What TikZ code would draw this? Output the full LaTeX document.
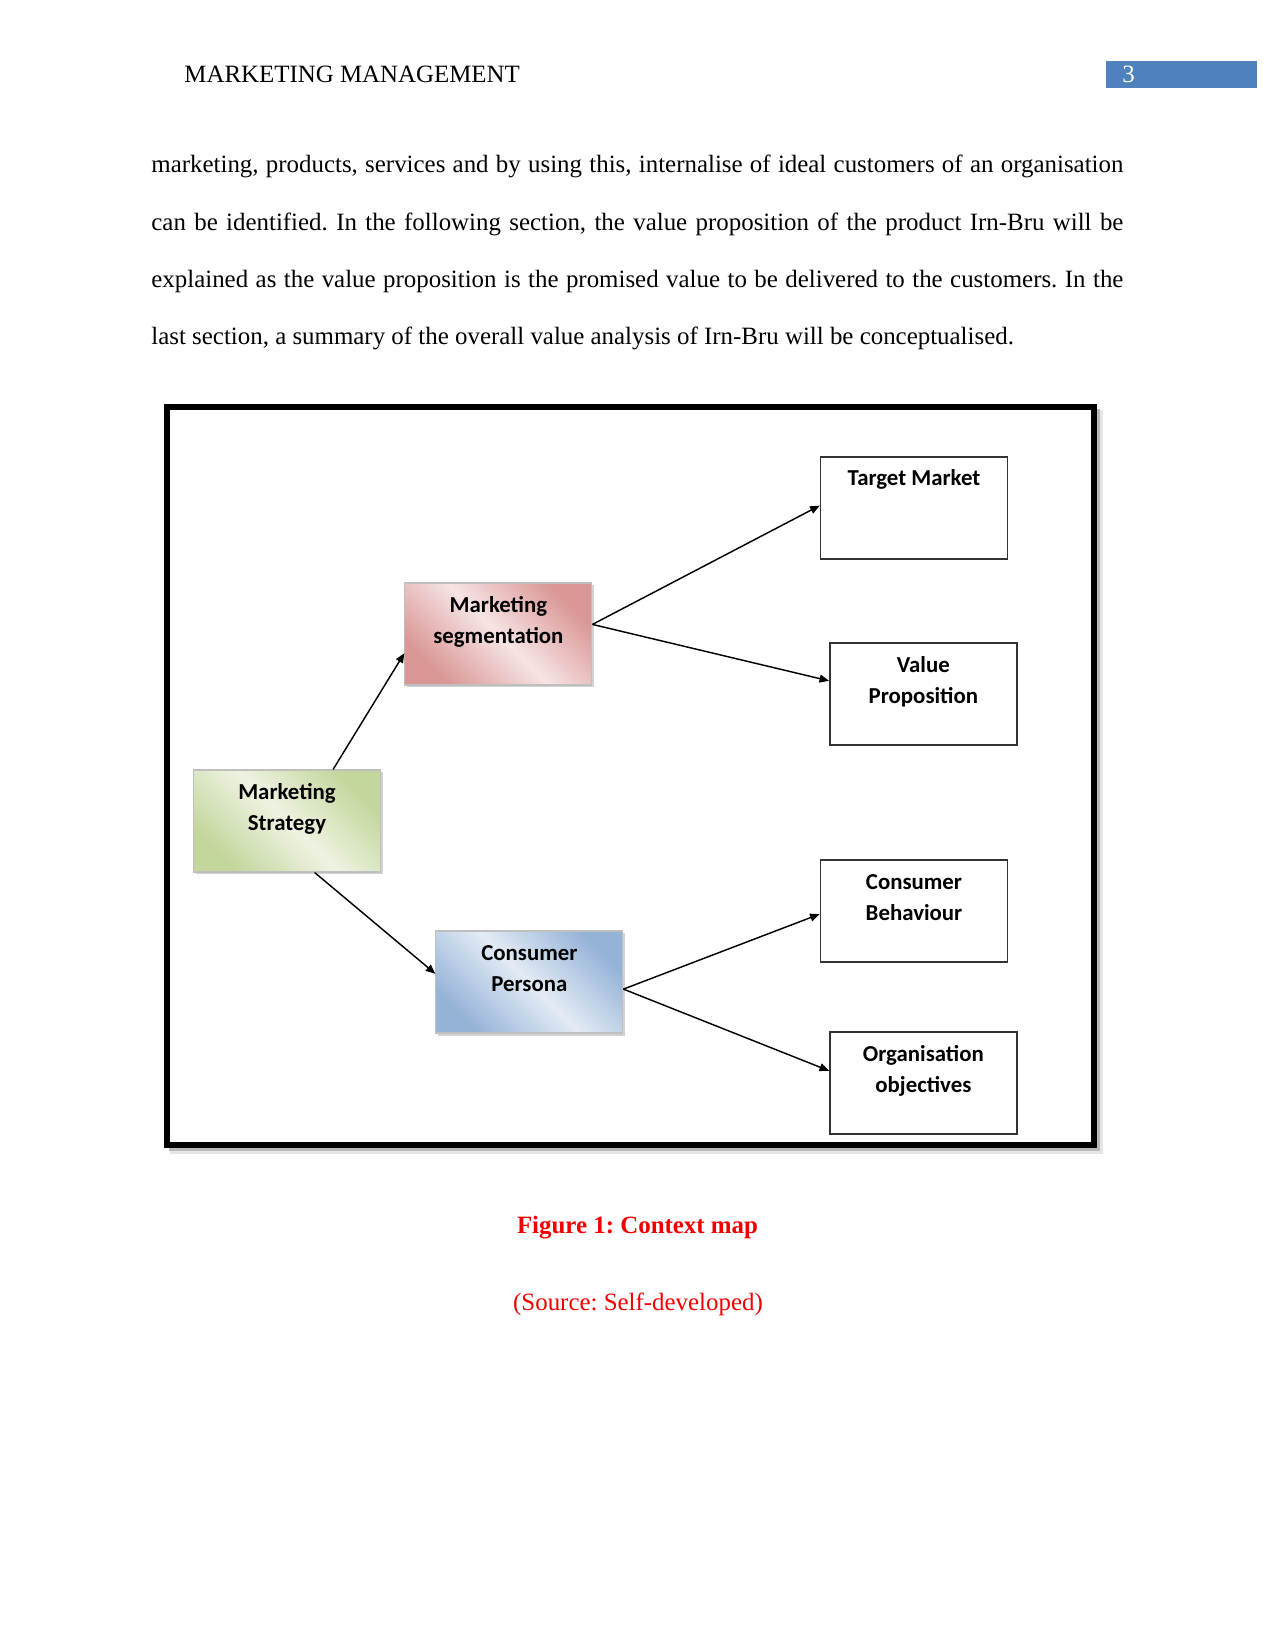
\documentclass[tikz,border=0pt]{standalone}
\usepackage{fontspec}
\setmainfont{Liberation Serif}
\newfontfamily\calibri{Carlito}
\usetikzlibrary{arrows.meta,calc,shadows}
\newlength\px \setlength\px{0.4818pt}
\frenchspacing
\definecolor{hdrblue}{HTML}{4F81BD}
\definecolor{segdark}{HTML}{D99694}
\definecolor{seglight}{HTML}{F6E4E4}
\definecolor{strdark}{HTML}{C3D69B}
\definecolor{strlight}{HTML}{EEF3E2}
\definecolor{perdark}{HTML}{95B3D7}
\definecolor{perlight}{HTML}{E3EBF5}
\definecolor{capred}{HTML}{F00000}
\newcommand\bodyfont{\fontsize{12pt}{14pt}\selectfont\frenchspacing}
\newcommand\boxlines[1]{\parbox[c][102\px][t]{187\px}{\centering\calibri\bfseries\fontsize{11pt}{15.4pt}\selectfont\rule{0pt}{29\px}#1}}
\begin{document}
\begin{tikzpicture}[x=0.4818pt,y=-0.4818pt,
  txt/.style={anchor=base west,inner sep=0pt,font=\bodyfont},
  plainbox/.style={draw=black!80,line width=0.8pt,fill=white,inner sep=0pt},
  shadebox/.style={draw=black!25,line width=0.5pt,inner sep=0pt,
    drop shadow={shadow xshift=1.2pt,shadow yshift=-1.2pt,opacity=0.35}},
  segbox/.style={shadebox,left color=segdark,right color=segdark,middle color=seglight,shading angle=135},
  strbox/.style={shadebox,left color=strdark,right color=strdark,middle color=strlight,shading angle=135},
  perbox/.style={shadebox,left color=perdark,right color=perdark,middle color=perlight,shading angle=135},
  arr/.style={line width=0.7pt,-{Triangle[length=4.6pt,width=3.8pt]}}]
\useasboundingbox (0,0) rectangle (1275,1650);
\fill[white] (0,0) rectangle (1275,1650);

% header
\node[txt] (hdr) at (184,83) {MARKETING MANAGEMENT};
\node[fill=hdrblue,minimum width=72.3pt,minimum height=13pt,inner sep=0pt,anchor=north west] (pgbox) at (1106,61) {};
\node[txt,text=white] (pgnum) at (1122,83) {3};

% body text
\node[txt] (l1) at (151,173) {\makebox[972\px][s]{marketing, products, services and by using this, internalise of ideal customers of an organisation}};
\node[txt] (l2) at (151,230.3) {\makebox[972\px][s]{can be identified. In the following section, the value proposition of the product Irn-Bru will be}};
\node[txt] (l3) at (151,287.6) {\makebox[972\px][s]{explained as the value proposition is the promised value to be delivered to the customers. In the}};
\node[txt] (l4) at (151,345) {last section, a summary of the overall value analysis of Irn-Bru will be conceptualised.};

% figure frame
\fill[black!10] (170,410) rectangle (1103,1154);
\fill[black!28] (169,409) rectangle (1100,1151);
\draw[line width=2.89pt,fill=white] (167,407) rectangle (1094,1145);

% boxes
\node[plainbox] (tm) at (914,508) {\boxlines{Target Market}};
\node[plainbox] (vp) at (923.4,694) {\boxlines{Value\\Proposition}};
\node[plainbox] (cb) at (914,911) {\boxlines{Consumer\\Behaviour}};
\node[plainbox] (oo) at (923.4,1083) {\boxlines{Organisation\\objectives}};
\node[segbox] (seg) at (498.4,634) {\boxlines{Marketing\\segmentation}};
\node[strbox] (ms) at (287,821) {\boxlines{Marketing\\Strategy}};
\node[perbox] (per) at (529.4,982) {\boxlines{Consumer\\Persona}};

% connector end points
\coordinate (a1s) at ($(ms.north west)!0.745!(ms.north east)$);
\coordinate (a1e) at ($(seg.north west)!0.686!(seg.south west)$);
\coordinate (a2s) at ($(ms.south west)!0.647!(ms.south east)$);
\coordinate (a2e) at ($(per.north west)!0.42!(per.south west)$);
\coordinate (segs) at ($(seg.north east)!0.407!(seg.south east)$);
\coordinate (tme) at ($(tm.north west)!0.477!(tm.south west)$);
\coordinate (vpe) at ($(vp.north west)!0.373!(vp.south west)$);
\coordinate (pers) at ($(per.north east)!0.569!(per.south east)$);
\coordinate (cbe) at ($(cb.north west)!0.53!(cb.south west)$);
\coordinate (ooe) at ($(oo.north west)!0.382!(oo.south west)$);

\draw[arr] (a1s) -- (a1e);
\draw[arr] (a2s) -- (a2e);
\draw[arr] (segs) -- (tme);
\draw[arr] (segs) -- (vpe);
\draw[arr] (pers) -- (cbe);
\draw[arr] (pers) -- (ooe);

% caption
\node[anchor=base,inner sep=0pt,text=capred,font=\bodyfont\bfseries] (cap) at (637.5,1233) {Figure 1: Context map};
\node[anchor=base,inner sep=0pt,text=capred,font=\bodyfont] (src) at (638,1310) {(Source: Self-developed)};
\end{tikzpicture}
\end{document}
